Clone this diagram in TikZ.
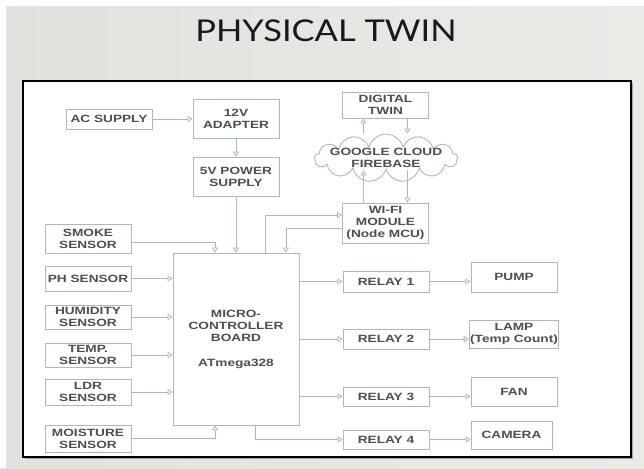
\documentclass[tikz,border=0pt]{standalone}
\usepackage{fontspec}
\usetikzlibrary{arrows.meta,calc,shapes.symbols}
\setmainfont{Liberation Sans}
\newfontfamily\boxfont[FakeStretch=1.3]{Liberation Sans}
\newfontfamily\titlefont[FakeStretch=1.15]{Lato}
\definecolor{slide}{RGB}{226,225,221}
\definecolor{wire}{RGB}{168,184,202}
\definecolor{ink}{RGB}{78,78,78}

\begin{document}
\begin{tikzpicture}[>={Triangle[open,length=5pt,width=6pt]},x=1pt,y=-1pt,
  every node/.style={font=\boxfont\bfseries\fontsize{10.5}{12}\selectfont,text=ink,align=center},
  blk/.style={draw=wire,fill=white,line width=0.9pt,inner sep=1pt,minimum width=86pt,minimum height=#1},
  blk/.default=24pt,
  conn/.style={draw=wire,line width=0.8pt,->}]
\useasboundingbox (0,0) rectangle (644,468);
% slide and frame
\shade[left color=slide,right color=slide!70!white] (0,0) rectangle (644,468);
\fill[white!96!slide] (0,0) rectangle (644,6);
\fill[white!96!slide] (0,0) rectangle (6,468);
\fill[black!35] (25,83) rectangle (633,459);
\draw[line width=1.8pt,fill=white] (23,81) rectangle (631,457);
\node[font=\titlefont\fontsize{30}{32}\selectfont,text=black!90] (title) at (326,31) {PHYSICAL TWIN};
% power and cloud
\node[blk=20pt] (ac) at (109,119) {AC SUPPLY};
\node[blk=39pt] (adapt) at (236,118.5) {12V\\ADAPTER};
\node[blk=39pt] (psu) at (236,176.5) {5V POWER\\SUPPLY};
\node[blk=26pt] (dt) at (385.5,105) {DIGITAL\\TWIN};
\node[cloud,cloud puffs=13,aspect=4.2,draw=wire,fill=white,line width=0.9pt,
  minimum width=143pt,minimum height=34pt,inner sep=0pt] (fb) at (386,158)
  {\makebox[60pt]{GOOGLE CLOUD}\\\makebox[60pt]{FIREBASE}};
\node[blk=40pt] (wifi) at (385.5,223) {WI-FI\\MODULE\\(Node MCU)};
% sensors
\node[blk=29pt] (smoke) at (88,238.5) {SMOKE\\SENSOR};
\node[blk=25pt] (ph) at (88,278.5) {PH SENSOR};
\node[blk=24pt] (hum) at (88,317) {HUMIDITY\\SENSOR};
\node[blk=24pt] (temp) at (88,355) {TEMP.\\SENSOR};
\node[blk=26pt] (ldr) at (88,392) {LDR\\SENSOR};
\node[blk=27pt] (moist) at (88,438.5) {MOISTURE\\SENSOR};
\node[blk=172pt,minimum width=126pt] (mcu) at (236,339) {MICRO-\\CONTROLLER\\BOARD\\[13pt]ATmega328};
% relays and loads
\foreach \n/\y/\h in {1/281.5/21,2/339/20,3/396.5/19,4/439.5/19}
  \node[blk=\h pt] (relay\n) at (386,\y) {RELAY \n};
\node[blk=30pt] (pump) at (514,277) {PUMP};
\node[blk=28pt] (lamp) at (514,334) {LAMP\\(Temp Count)};
\node[blk=29pt] (fan) at (514,391.5) {FAN};
\node[blk=28pt,minimum width=81pt] (camera) at (511.5,435) {CAMERA};
% connectors
\coordinate (dl) at ($(dt.south)+(-22,0)$);
\coordinate (dr) at ($(dt.south)+(22,0)$);
\draw[conn] (ac.east) -- (ac.east -| adapt.west);
\draw[conn] (adapt) -- (psu);
\draw[conn] (psu) -- (psu |- mcu.north);
\draw[conn] (dl |- fb.north) -- (dl);
\draw[conn] (dr) -- (dr |- fb.north);
\draw[conn] (wifi.north -| dl) -- (dl |- fb.south);
\draw[conn] (dr |- fb.south) -- (dr |- wifi.north);
\draw[conn] ([yshift=-3.5pt]smoke.east) -| ([xshift=-21pt]mcu.north);
\draw[conn] ([xshift=29pt]mcu.north) |- ([yshift=8pt]wifi.west);
\draw[conn] ([yshift=-5pt]wifi.west) -| ([xshift=50pt]mcu.north);
\foreach \s in {ph,hum,temp,ldr} \draw[conn] (\s.east) -- (\s.east -| mcu.west);
\draw[conn] (moist.east) -| ([xshift=-21pt]mcu.south);
\foreach \r in {1,2,3} \draw[conn] (relay\r.west -| mcu.east) -- (relay\r.west);
\draw[conn] ([xshift=19pt]mcu.south) |- (relay4.west);
\foreach \r/\d in {1/pump,2/lamp,3/fan,4/camera} \draw[conn] (relay\r.east) -- (relay\r.east -| \d.west);
\end{tikzpicture}
\end{document}
